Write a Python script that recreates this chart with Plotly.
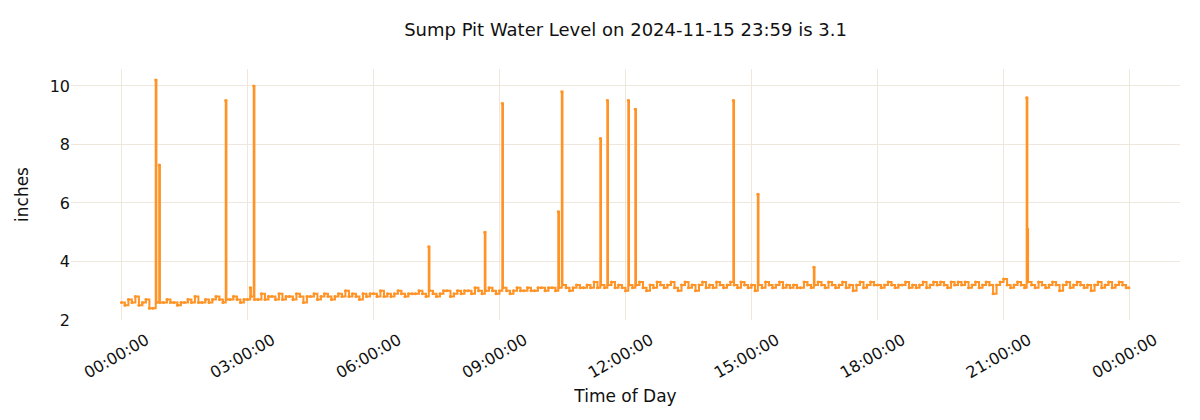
import pandas as pd
import plotly.graph_objects as go

DAY = "2024-11-15"

# Baseline readings every 5 minutes, one row per hour (inches)
baseline_rows = [
    [2.6, 2.5, 2.7, 2.6, 2.8, 2.5, 2.6, 2.7, 2.4, 2.4, 2.6, 2.6],
    [2.6, 2.7, 2.6, 2.6, 2.5, 2.6, 2.6, 2.7, 2.6, 2.8, 2.6, 2.6],
    [2.7, 2.6, 2.7, 2.8, 2.7, 2.6, 2.7, 2.7, 2.8, 2.7, 2.6, 2.7],
    [2.7, 2.8, 2.7, 2.7, 2.9, 2.7, 2.8, 2.8, 2.7, 2.9, 2.7, 2.8],
    [2.8, 2.7, 2.9, 2.8, 2.6, 2.8, 2.8, 2.9, 2.7, 2.8, 2.9, 2.8],
    [2.7, 2.8, 2.9, 2.8, 3.0, 2.8, 2.9, 2.8, 2.7, 2.9, 2.8, 2.9],
    [2.9, 2.8, 3.0, 2.8, 2.9, 2.8, 2.9, 3.0, 2.9, 2.8, 2.9, 2.9],
    [2.9, 3.0, 2.9, 2.8, 3.0, 2.9, 2.8, 2.9, 3.0, 3.0, 2.8, 2.9],
    [3.0, 2.9, 3.0, 3.0, 2.9, 3.1, 3.0, 2.9, 3.0, 3.1, 3.0, 2.9],
    [3.0, 3.1, 3.0, 2.9, 3.0, 3.1, 3.0, 3.0, 3.1, 3.0, 3.0, 3.1],
    [3.1, 3.0, 3.1, 3.1, 3.0, 3.1, 3.2, 3.1, 3.0, 3.1, 3.2, 3.1],
    [3.1, 3.2, 3.1, 3.3, 3.1, 3.2, 3.1, 3.2, 3.3, 3.1, 3.2, 3.1],
    [3.0, 3.2, 3.1, 3.2, 3.3, 3.1, 3.0, 3.2, 3.1, 3.3, 3.2, 3.1],
    [3.2, 3.3, 3.1, 3.0, 3.2, 3.3, 3.1, 3.2, 3.0, 3.2, 3.3, 3.1],
    [3.2, 3.1, 3.3, 3.2, 3.1, 3.2, 3.3, 3.2, 3.1, 3.3, 3.2, 3.1],
    [3.2, 3.0, 3.2, 3.1, 3.3, 3.2, 3.1, 3.2, 3.3, 3.1, 3.2, 3.1],
    [3.2, 3.1, 3.1, 3.3, 3.2, 3.1, 3.2, 3.3, 3.2, 3.1, 3.3, 3.2],
    [3.1, 3.2, 3.3, 3.1, 3.2, 3.0, 3.2, 3.3, 3.1, 3.2, 3.3, 3.2],
    [3.2, 3.1, 3.2, 3.3, 3.2, 3.1, 3.2, 3.2, 3.3, 3.1, 3.2, 3.1],
    [3.2, 3.3, 3.1, 3.2, 3.3, 3.2, 3.3, 3.2, 3.1, 3.3, 3.2, 3.3],
    [3.2, 3.3, 3.1, 3.2, 3.3, 3.1, 3.2, 3.3, 3.2, 2.9, 3.2, 3.3],
    [3.4, 3.2, 3.1, 3.2, 3.3, 3.2, 3.1, 3.3, 3.2, 3.1, 3.3, 3.2],
    [3.1, 3.2, 3.3, 3.2, 3.0, 3.2, 3.3, 3.1, 3.2, 3.3, 3.2, 3.1],
    [3.2, 3.0, 3.2, 3.3, 3.1, 3.2, 3.3, 3.1, 3.2, 3.3, 3.2, 3.1],
]
last_time = "23:59"
last_value = 3.1

# Pump-cycle spikes (time of day, inches)
spike_times = ["00:49", "00:54", "02:29", "03:04", "03:09", "07:19", "08:39",
               "09:04", "10:24", "10:29", "11:24", "11:34", "12:04", "12:14",
               "14:34", "15:09", "16:29", "21:33", "21:34"]
spike_values = [10.2, 7.3, 9.5, 3.1, 10.0, 4.5, 5.0,
                9.4, 5.7, 9.8, 8.2, 9.5, 9.5, 9.2,
                9.5, 6.3, 3.8, 9.6, 5.1]

xtick_labels = ["00:00:00", "03:00:00", "06:00:00", "09:00:00", "12:00:00",
                "15:00:00", "18:00:00", "21:00:00", "00:00:00"]

# ---- assemble the series ----
base_times = []
base_values = []
for h, row in enumerate(baseline_rows):
    for k, v in enumerate(row):
        base_times.append(pd.Timestamp(f"{DAY} {h:02d}:{k*5:02d}"))
        base_values.append(v)
base_times.append(pd.Timestamp(f"{DAY} {last_time}"))
base_values.append(last_value)

df = pd.DataFrame({
    "t": base_times + [pd.Timestamp(f"{DAY} {s}") for s in spike_times],
    "v": base_values + spike_values,
}).sort_values("t", kind="stable")

start = pd.Timestamp(DAY)
tickvals = [start + pd.Timedelta(hours=3 * i) for i in range(len(xtick_labels))]
xr = [start - pd.Timedelta(hours=1.2), start + pd.Timedelta(hours=25.2)]

color = "#ff9326"
grid = "#efe7dd"
font = "DejaVu Sans"

ML, MR, MT, MB = 63, 28, 61, 108

fig = go.Figure(go.Scatter(
    x=df["t"], y=df["v"], mode="lines+markers",
    line=dict(color=color, width=2, shape="hv"),
    marker=dict(color=color, size=3),
    showlegend=False,
))

fig.update_layout(
    width=1200, height=420,
    margin=dict(l=ML, r=MR, t=MT, b=MB),
    paper_bgcolor="white", plot_bgcolor="white",
    font=dict(family=font, size=16, color="#111111"),
    title=dict(text="Sump Pit Water Level on 2024-11-15 23:59 is 3.1",
               x=(ML + 1200 - MR) / 2 / 1200, xanchor="center",
               y=1 - 22 / 420, yanchor="middle",
               font=dict(family=font, size=18, color="#111111")),
)
fig.update_xaxes(
    range=xr, tickmode="array", tickvals=tickvals, ticktext=xtick_labels,
    tickangle=-30, ticklabelshift=25, ticklabelstandoff=7,
    showgrid=True, gridcolor=grid, gridwidth=1, zeroline=False,
    showline=False, ticks="", automargin=False,
    title=dict(text="Time of Day", font=dict(size=17), standoff=8),
    tickfont=dict(size=16),
)
fig.update_yaxes(
    range=[2, 10.58], tickvals=[2, 4, 6, 8, 10],
    showgrid=True, gridcolor=grid, gridwidth=1, zeroline=False,
    showline=False, ticks="", automargin=False,
    title=dict(text="inches", font=dict(size=17), standoff=16),
    tickfont=dict(size=16),
)

fig.write_html("out.html")
